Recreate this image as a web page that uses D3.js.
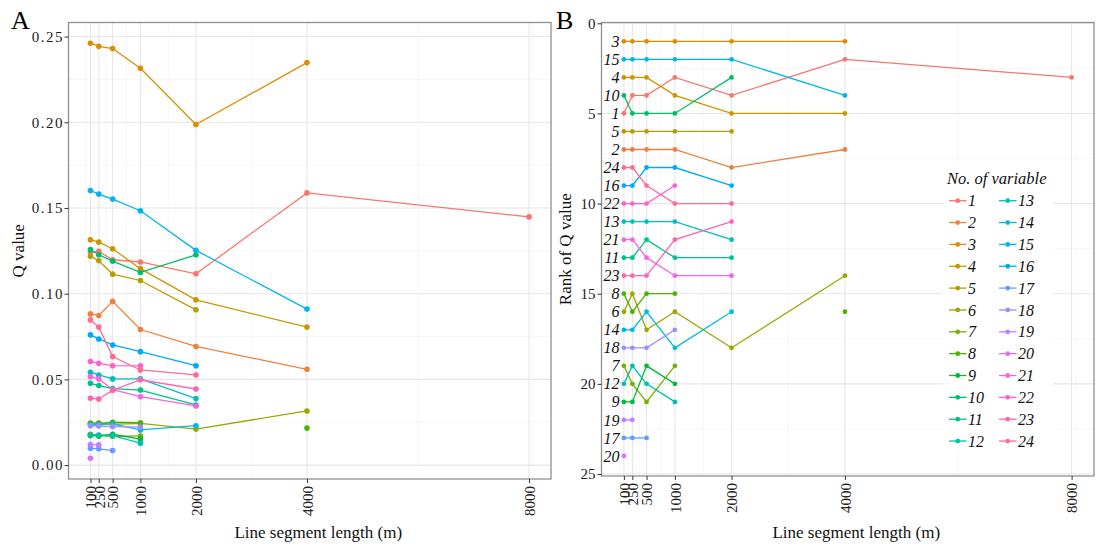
<!DOCTYPE html>
<html>
<head>
<meta charset="utf-8">
<script src="https://cdn.jsdelivr.net/npm/d3@7"></script>
<style>
  html, body { margin: 0; padding: 0; background: #fff; }
  svg text { font-family: "Liberation Serif", "Times New Roman", "DejaVu Serif", serif; }
</style>
</head>
<body>
<svg id="chart" width="1096" height="549"></svg>
<script>
// Segment lengths (m) at which the Q statistic was computed
const lengths = [100, 250, 500, 1000, 2000, 4000, 8000];
const variables = ["1","2","3","4","5","6","7","8","9","10","11","12",
                   "13","14","15","16","17","18","19","20","21","22","23","24"];
const xBreaks = [100, 250, 500, 1000, 2000, 4000, 8000];
const qBreaks = [0, 0.05, 0.10, 0.15, 0.20, 0.25];
const rankBreaks = [0, 5, 10, 15, 20, 25];

// Q value per variable (rows) and segment length (columns); null = not available
const qValue = [
  [0.1241, 0.1247, 0.1198, 0.1185, 0.1116, 0.1588, 0.1448],
  [0.0882, 0.0873, 0.0955, 0.0791, 0.0692, 0.0559, null],
  [0.2461, 0.2443, 0.2430, 0.2315, 0.1987, 0.2348, null],
  [0.1315, 0.1301, 0.1262, 0.1146, 0.0964, 0.0805, null],
  [0.1218, 0.1192, 0.1114, 0.1077, 0.0906, null, null],
  [0.0243, 0.0246, 0.0238, 0.0243, 0.0210, 0.0316, null],
  [0.0180, 0.0172, 0.0168, 0.0170, null, null, null],
  [0.0246, 0.0244, 0.0250, 0.0247, null, 0.0216, null],
  [0.0172, 0.0170, 0.0180, 0.0152, null, null, null],
  [0.1257, 0.1227, 0.1190, 0.1124, 0.1227, null, null],
  [0.0477, 0.0464, 0.0446, 0.0438, 0.0351, null, null],
  [0.0176, 0.0176, 0.0172, 0.0128, null, null, null],
  [0.0542, 0.0526, 0.0503, 0.0503, 0.0388, null, null],
  [0.0237, 0.0236, 0.0240, 0.0205, 0.0230, null, null],
  [0.1602, 0.1581, 0.1552, 0.1484, 0.1253, 0.0910, null],
  [0.0760, 0.0736, 0.0701, 0.0662, 0.0580, null, null],
  [0.0098, 0.0095, 0.0085, null, null, null, null],
  [0.0230, 0.0228, 0.0225, 0.0222, null, null, null],
  [0.0120, 0.0118, null, null, null, null, null],
  [0.0040, null, null, null, null, null, null],
  [0.0516, 0.0503, 0.0440, 0.0399, 0.0345, null, null],
  [0.0604, 0.0594, 0.0580, 0.0579, null, null, null],
  [0.0390, 0.0386, 0.0436, 0.0498, 0.0444, null, null],
  [0.0847, 0.0805, 0.0633, 0.0555, 0.0526, null, null]
];

// Rank of the Q value per variable and segment length
const qRank = [
  [5, 4, 4, 3, 4, 2, 3],
  [7, 7, 7, 7, 8, 7, null],
  [1, 1, 1, 1, 1, 1, null],
  [3, 3, 3, 4, 5, 5, null],
  [6, 6, 6, 6, 6, null, null],
  [16, 15, 17, 16, 18, 14, null],
  [19, 20, 21, 19, null, null, null],
  [15, 16, 15, 15, null, 16, null],
  [21, 21, 19, 20, null, null, null],
  [4, 5, 5, 5, 3, null, null],
  [13, 13, 12, 13, 13, null, null],
  [20, 19, 20, 21, null, null, null],
  [11, 11, 11, 11, 12, null, null],
  [17, 17, 16, 18, 16, null, null],
  [2, 2, 2, 2, 2, 4, null],
  [9, 9, 8, 8, 9, null, null],
  [23, 23, 23, null, null, null, null],
  [18, 18, 18, 17, null, null, null],
  [22, 22, null, null, null, null, null],
  [24, null, null, null, null, null, null],
  [12, 12, 13, 14, 14, null, null],
  [10, 10, 10, 9, null, null, null],
  [14, 14, 14, 12, 11, null, null],
  [8, 8, 9, 10, 10, null, null]
];

// Evenly spaced hues in polar CIELUV (L = 65, C = 100), converted to sRGB
function hueColour(h) {
  const L = 65, C = 100, hr = h * Math.PI / 180;
  const u = C * Math.cos(hr), v = C * Math.sin(hr);
  const Xn = 95.047, Yn = 100, Zn = 108.883;
  const den = Xn + 15 * Yn + 3 * Zn;
  const un = 4 * Xn / den, vn = 9 * Yn / den;
  const Y = Yn * Math.pow((L + 16) / 116, 3);
  const up = u / (13 * L) + un, vp = v / (13 * L) + vn;
  const X = 9 * Y * up / (4 * vp);
  const Z = Y * (12 - 3 * up - 20 * vp) / (4 * vp);
  const x = X / 100, y = Y / 100, z = Z / 100;
  const lin = [
    3.2404542 * x - 1.5371385 * y - 0.4985314 * z,
   -0.9692660 * x + 1.8760108 * y + 0.0415560 * z,
    0.0556434 * x - 0.2040259 * y + 1.0572252 * z
  ];
  const c = lin.map(t => {
    const g = t <= 0.0031308 ? 12.92 * t : 1.055 * Math.pow(t, 1 / 2.4) - 0.055;
    return Math.round(255 * Math.max(0, Math.min(1, g)));
  });
  return d3.rgb(c[0], c[1], c[2]).formatHex();
}
const palette = variables.map((_, i) => hueColour(15 + i * 360 / variables.length));
const colour = d3.scaleOrdinal().domain(variables).range(palette);

// Minor breaks halfway between major breaks, extended one step beyond each end
function minorBreaks(b, lim) {
  const bd = b[1] - b[0];
  let ext = b.slice();
  if (lim[0] < ext[0]) ext.unshift(ext[0] - bd);
  if (lim[1] > ext[ext.length - 1]) ext.push(ext[ext.length - 1] + bd);
  const out = [];
  for (let i = 0; i < ext.length - 1; i++) out.push((ext[i] + ext[i + 1]) / 2);
  return out.filter(v => v >= lim[0] && v <= lim[1]);
}
function expand(ext, f) {
  const d = (ext[1] - ext[0]) * f;
  return [ext[0] - d, ext[1] + d];
}

const svg = d3.select("#chart");
const FS = 15;
const SERIF = "'Liberation Serif', 'Times New Roman', 'DejaVu Serif', serif";

const xLim = expand(d3.extent(lengths), 0.05);
const allQ = qValue.flat().filter(v => v != null);
const qLim = expand(d3.extent(allQ), 0.05);

function series(rows) {
  return variables.map((name, i) => ({
    name,
    pts: lengths.map((len, j) => ({ x: len, y: rows[i][j] }))
  }));
}

function drawPanel(opt) {
  const g = svg.append("g");
  const { x, y, box } = opt;
  // background grid
  const grid = g.append("g");
  minorBreaks(xBreaks, x.domain()).forEach(v => grid.append("line")
    .attr("x1", x(v)).attr("x2", x(v)).attr("y1", box.top).attr("y2", box.bottom)
    .attr("stroke", "#f2f2f2").attr("stroke-width", 0.6));
  opt.yMinor.forEach(v => grid.append("line")
    .attr("y1", y(v)).attr("y2", y(v)).attr("x1", box.left).attr("x2", box.right)
    .attr("stroke", "#f2f2f2").attr("stroke-width", 0.6));
  xBreaks.forEach(v => grid.append("line")
    .attr("x1", x(v)).attr("x2", x(v)).attr("y1", box.top).attr("y2", box.bottom)
    .attr("stroke", "#e6e6e6").attr("stroke-width", 1.1));
  opt.yBreaks.forEach(v => grid.append("line")
    .attr("y1", y(v)).attr("y2", y(v)).attr("x1", box.left).attr("x2", box.right)
    .attr("stroke", "#e6e6e6").attr("stroke-width", 1.1));

  // lines then points
  const data = series(opt.rows);
  const line = d3.line().defined(d => d.y != null).x(d => x(d.x)).y(d => y(d.y));
  g.append("g").selectAll("path").data(data).join("path")
    .attr("d", d => line(d.pts))
    .attr("fill", "none")
    .attr("stroke", d => colour(d.name))
    .attr("stroke-width", 1.3);
  const pts = data.flatMap(d => d.pts.filter(p => p.y != null).map(p => ({ name: d.name, ...p })));
  g.append("g").selectAll("circle").data(pts).join("circle")
    .attr("cx", d => x(d.x)).attr("cy", d => y(d.y)).attr("r", opt.r)
    .attr("fill", d => colour(d.name));

  // border
  g.append("rect")
    .attr("x", box.left).attr("y", box.top)
    .attr("width", box.right - box.left).attr("height", box.bottom - box.top)
    .attr("fill", "none").attr("stroke", "#8f8f8f").attr("stroke-width", 1.3);

  // axes
  const ax = g.append("g").attr("transform", `translate(0,${box.bottom})`)
    .call(d3.axisBottom(x).tickValues(xBreaks).tickSize(4).tickPadding(3).tickFormat(d3.format("d")));
  ax.attr("font-family", SERIF);
  ax.select(".domain").remove();
  ax.selectAll(".tick line").attr("stroke", "#333");
  ax.selectAll(".tick text")
    .attr("transform", "rotate(-90)")
    .attr("text-anchor", "end")
    .attr("x", -7).attr("y", 0).attr("dy", "0.35em")
    .attr("font-size", FS).attr("fill", "#222");

  const ay = g.append("g").attr("transform", `translate(${box.left},0)`)
    .call(d3.axisLeft(y).tickValues(opt.yBreaks).tickSize(4).tickPadding(opt.yPad).tickFormat(opt.yFormat));
  ay.attr("font-family", SERIF);
  ay.select(".domain").remove();
  ay.selectAll(".tick line").attr("stroke", "#333");
  ay.selectAll(".tick text").attr("font-size", FS).attr("fill", "#222")
    .attr("letter-spacing", opt.ySpacing);

  // titles
  g.append("text").attr("x", (box.left + box.right) / 2 + 8.5).attr("y", 538)
    .attr("text-anchor", "middle").attr("font-size", 17).attr("fill", "#111")
    .text("Line segment length (m)");
  g.append("text")
    .attr("transform", `translate(${opt.yTitleX},${(box.top + box.bottom) / 2}) rotate(-90)`)
    .attr("text-anchor", "middle").attr("font-size", 17).attr("fill", "#111")
    .text(opt.yTitle);
  g.append("text").attr("x", opt.tag.x).attr("y", 28.5)
    .attr("font-size", 26).attr("fill", "#000").text(opt.tag.label);
  return { g, x, y, data };
}

// Panel A: Q value
const boxA = { left: 68.5, right: 551, top: 22.5, bottom: 479 };
const xA = d3.scaleLinear().domain(xLim).range([boxA.left, boxA.right]);
const yA = d3.scaleLinear().domain(qLim).range([boxA.bottom, boxA.top]);
drawPanel({
  x: xA, y: yA, box: boxA, rows: qValue, r: 2.8,
  yBreaks: qBreaks, yMinor: minorBreaks(qBreaks, qLim), yFormat: d3.format(".2f"),
  yPad: 0.5, ySpacing: 1.5,
  yTitle: "Q value", yTitleX: 24, tag: { x: 11, label: "A" }
});

// Panel B: rank of Q value (reversed axis)
const boxB = { left: 601.5, right: 1094, top: 22.5, bottom: 476 };
const xB = d3.scaleLinear().domain(xLim).range([boxB.left, boxB.right]);
const yB = d3.scaleLinear().domain([0, 25]).range([23.3, 474]);
const panelB = drawPanel({
  x: xB, y: yB, box: boxB, rows: qRank, r: 2.4,
  yBreaks: rankBreaks, yMinor: minorBreaks(rankBreaks, [0, 25]), yFormat: d3.format("d"),
  yPad: 2, ySpacing: 0,
  yTitle: "Rank of Q value", yTitleX: 571, tag: { x: 556, label: "B" }
});

// variable labels beside the first point of each rank series
panelB.g.append("g").selectAll("text")
  .data(panelB.data.filter(d => d.pts[0].y != null))
  .join("text")
  .attr("x", d => xB(d.pts[0].x) - 4.5)
  .attr("y", d => yB(d.pts[0].y))
  .attr("dy", "0.35em")
  .attr("text-anchor", "end")
  .attr("font-style", "italic")
  .attr("font-size", 16)
  .attr("fill", "#111")
  .text(d => d.name);

// legend
const legend = svg.append("g");
legend.append("rect").attr("x", 943).attr("y", 166).attr("width", 110).attr("height", 285)
  .attr("fill", "#fff");
legend.append("text").attr("x", 947).attr("y", 184)
  .attr("font-style", "italic").attr("font-size", 16.5).attr("fill", "#111")
  .text("No. of variable");
const perCol = 12;
variables.forEach((name, i) => {
  const col = Math.floor(i / perCol), row = i % perCol;
  const kx = 949 + col * 50, ky = 200.7 + row * 21.85;
  const k = legend.append("g");
  k.append("line").attr("x1", kx).attr("x2", kx + 17.5).attr("y1", ky).attr("y2", ky)
    .attr("stroke", colour(name)).attr("stroke-width", 1.3);
  k.append("circle").attr("cx", kx + 8.75).attr("cy", ky).attr("r", 2.4).attr("fill", colour(name));
  k.append("text").attr("x", kx + 19).attr("y", ky).attr("dy", "0.35em")
    .attr("font-style", "italic").attr("font-size", 16).attr("fill", "#111").text(name);
});
</script>
</body>
</html>
